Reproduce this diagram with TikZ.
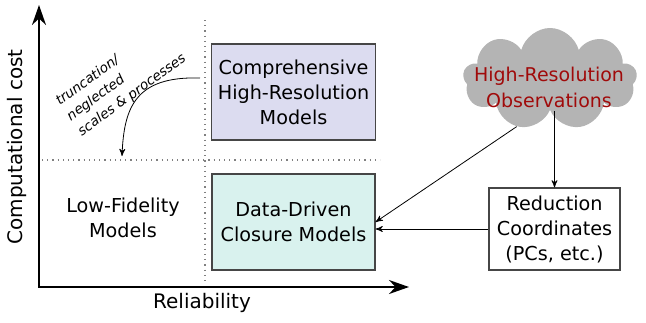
\documentclass[tikz,border=0pt]{standalone}
\usepackage{fontspec}
\setmainfont{DejaVu Sans}
\usetikzlibrary{arrows,arrows.meta,positioning,shapes.symbols}
\definecolor{hiresfill}{RGB}{220,220,240}
\definecolor{closurefill}{RGB}{217,242,238}
\definecolor{cloudgray}{RGB}{180,180,180}
\definecolor{obsred}{RGB}{160,10,10}
\definecolor{boxline}{RGB}{70,70,70}
\tikzset{>=stealth',
         modelbox/.style={draw=boxline, line width=0.6pt, minimum width=81.5pt,
                          minimum height=48pt, align=center, font=\fontsize{9.6}{12.5}\selectfont},
         plaintext/.style={align=center, font=\fontsize{9.6}{12.5}\selectfont},
         axis/.style={line width=0.9pt, {Stealth[length=10pt,width=7pt]}-{Stealth[length=10pt,width=7pt]}},
         divider/.style={gray, dotted, line width=0.6pt},
         link/.style={->, line width=0.4pt}}
\begin{document}
\begin{tikzpicture}[x=0.5pt,y=-0.5pt]
  \useasboundingbox (0,0) rectangle (646,322);
  % axes
  \coordinate (origin) at (39,287);
  \coordinate (ytip) at (39,5);
  \coordinate (xtip) at (409,287);
  \draw[axis] (ytip) -- (origin) -- (xtip);
  \node[plaintext, font=\fontsize{10}{12}\selectfont, rotate=90] (ylab) at (17,147) {Computational cost};
  \node[plaintext, font=\fontsize{10}{12}\selectfont] (xlab) at (202,303) {Reliability};
  % quadrant dividers
  \coordinate (vtop) at (205,20);
  \coordinate (vbot) at (205,282);
  \coordinate (hleft) at (42,160);
  \coordinate (hright) at (380,160);
  \draw[divider] (vtop) -- (vbot);
  \draw[divider] (hleft) -- (hright);
  % models
  \node[modelbox, fill=hiresfill] (hires) at (293.5,92)
       {Comprehensive\\High-Resolution\\Models};
  \node[modelbox, fill=closurefill] (dd) at (293.5,222)
       {Data-Driven\\Closure Models};
  \node[plaintext] (lofi) at (123,218) {Low-Fidelity\\Models};
  % observations and reduction
  \node[cloud, cloud puffs=9, aspect=1.7, fill=cloudgray, inner sep=0pt,
        minimum width=87pt, minimum height=51pt] (obs) at (550,79) {};
  \node[plaintext, text=obsred, font=\fontsize{9.5}{13}\selectfont] (obstext) at (549,87)
       {High-Resolution\\Observations};
  \node[modelbox, minimum width=65.5pt, minimum height=41pt, fill=white] (red) at (554.5,229)
       {Reduction\\Coordinates\\(PCs, etc.)};
  \draw[link] (obs.235) -- (dd.east);
  \draw[link] (obs.south -| red.north) -- (red.north);
  \draw[link] (red.west) -- (red.west -| dd.east);
  % truncation note
  \coordinate (bendstart) at (200,78);
  \coordinate (bendend) at (122,156);
  \draw[link] (bendstart) .. controls (135,76) and (124,108) .. (bendend);
  \node[align=left, rotate=36, font=\fontsize{6.8}{9.4}\selectfont\itshape] (note) at (121,80)
       {truncation/\\neglected\\scales \& processes};
\end{tikzpicture}
\end{document}
